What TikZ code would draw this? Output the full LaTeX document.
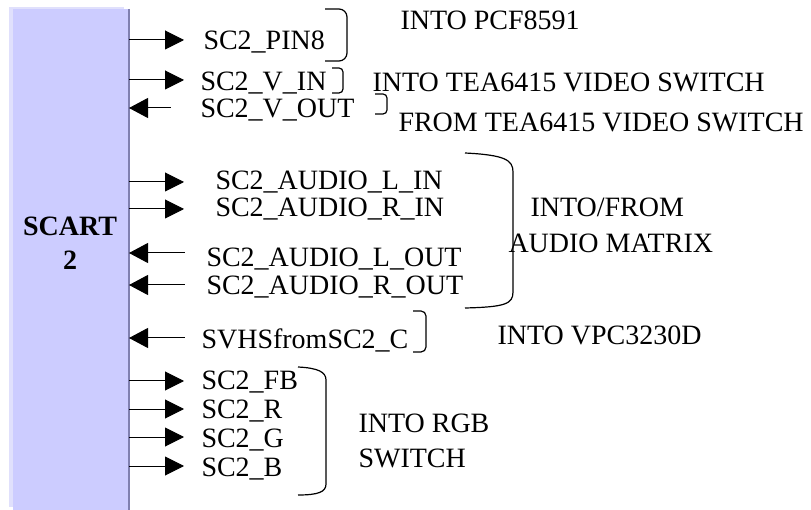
\documentclass[tikz,border=0pt]{standalone}
\usepackage{fontspec}
\setmainfont{Liberation Serif}
\usetikzlibrary{arrows.meta}
\definecolor{scartfill}{RGB}{204,204,255}
\definecolor{scartedge}{RGB}{128,128,176}
\definecolor{scartlight}{RGB}{224,224,252}

\begin{document}
\begin{tikzpicture}[x=1pt, y=-1pt, line width=1pt,
  txt/.style={inner sep=0pt, anchor=base west, font=\fontsize{28}{34}\selectfont},
  sigin/.style={-{Triangle[length=19pt,width=19pt]}},
  sigout/.style={{Triangle[length=19pt,width=20pt]}-},
  brk/.style={line width=1.2pt}]
\useasboundingbox (0,0) rectangle (811,510);

% scart block
\fill[scartlight] (9,7) rectangle (124,507);
\node[fill=scartfill, inner sep=0pt, minimum width=116pt, minimum height=501pt, anchor=north west] (scart) at (12,9) {};
\draw[scartedge, line width=2pt] (scart.north east) -- (scart.south east);
\node[font=\fontsize{28}{34}\selectfont\bfseries, align=center, inner sep=0pt] (sctxt) at (70,243) {SCART\\2};

% signals
\node[txt] (pin8) at (203,50) {SC2\_PIN8};
\node[txt] (vin) at (200,91) {SC2\_V\_IN};
\node[txt] (vout) at (200,118) {SC2\_V\_OUT};
\node[txt] (ali) at (215,190) {SC2\_AUDIO\_L\_IN};
\node[txt] (ari) at (215,217) {SC2\_AUDIO\_R\_IN};
\node[txt] (alo) at (206,267) {SC2\_AUDIO\_L\_OUT};
\node[txt] (aro) at (206,295) {SC2\_AUDIO\_R\_OUT};
\node[txt] (svhs) at (201,349) {SVHSfromSC2\_C};
\node[txt] (fb) at (201,389) {SC2\_FB};
\node[txt] (red) at (201,418) {SC2\_R};
\node[txt] (grn) at (201,447) {SC2\_G};
\node[txt] (blu) at (201,476) {SC2\_B};

\draw[sigin] (scart.east |- 0,40) -- ++(55,0);
\draw[sigin] (scart.east |- 0,80) -- ++(55,0);
\draw[sigout] (scart.east |- 0,108) -- ++(42,0);
\draw[sigin] (scart.east |- 0,182) -- ++(55,0);
\draw[sigin] (scart.east |- 0,209) -- ++(55,0);
\draw[sigout] (scart.east |- 0,253) -- ++(56,0);
\draw[sigout] (scart.east |- 0,285) -- ++(56,0);
\draw[sigout] (scart.east |- 0,338) -- ++(56,0);
\draw[sigin] (scart.east |- 0,381) -- ++(55,0);
\draw[sigin] (scart.east |- 0,409) -- ++(55,0);
\draw[sigin] (scart.east |- 0,437) -- ++(55,0);
\draw[sigin] (scart.east |- 0,466) -- ++(55,0);

% brackets
\draw[brk, rounded corners=8pt] (325,9) -| (347,61) -- (325,61);
\draw[brk, rounded corners=4pt] (332,68) -| (343,93) -- (332,93);
\draw[brk, rounded corners=4pt] (375,94) -| (387,114) -- (375,114);
\draw[brk] (465,153) .. controls (505,155) and (513,160) .. (513,172) -- (513,292)
  .. controls (513,304) and (505,307) .. (465,308);
\draw[brk, rounded corners=5pt] (413,311) -| (426,352) -- (413,352);
\draw[brk] (298,367) .. controls (318,368) and (326,372) .. (326,380) -- (326,484)
  .. controls (326,492) and (318,495) .. (298,495);

% destinations
\node[txt] (pcf) at (400,30) {INTO PCF8591};
\node[txt] (teain) at (372,92) {INTO TEA6415 VIDEO SWITCH};
\node[txt] (teaout) at (398,132) {FROM TEA6415 VIDEO SWITCH};
\node[txt] (amx1) at (530,217) {INTO/FROM};
\node[txt] (amx2) at (508,253) {AUDIO MATRIX};
\node[txt] (vpc) at (497,345) {INTO VPC3230D};
\node[txt] (rgb1) at (358,432) {INTO RGB};
\node[txt] (rgb2) at (358,467) {SWITCH};
\end{tikzpicture}
\end{document}
